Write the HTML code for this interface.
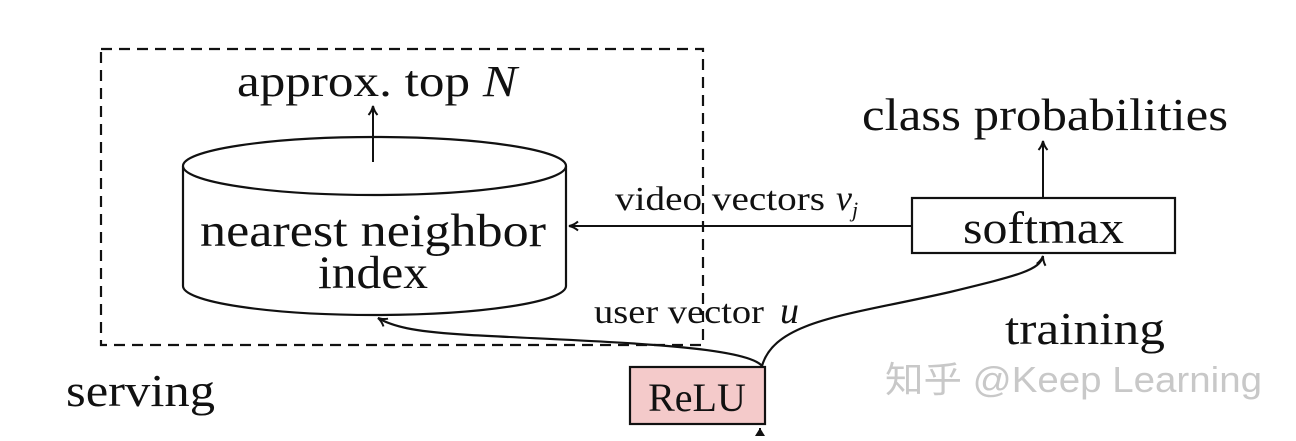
<!DOCTYPE html>
<html><head><meta charset="utf-8"><style>
body{margin:0;background:#fff;}
svg text{font-family:"Liberation Serif",serif;fill:#111;}
</style></head><body>
<svg width="1296" height="436" viewBox="0 0 1296 436" xmlns="http://www.w3.org/2000/svg">
<defs><marker id="a" markerWidth="12" markerHeight="12" refX="10" refY="6" orient="auto" markerUnits="userSpaceOnUse"><path d="M1,1.5 Q5,5 10,6 Q5,7 1,10.5" fill="none" stroke="#111" stroke-width="2"/></marker></defs>
<rect x="101" y="49" width="602" height="296" fill="none" stroke="#111" stroke-width="2.2" stroke-dasharray="11,7"/>
<path d="M183,166 L183,286 A191.5,29 0 0 0 566,286 L566,166" fill="#fff" stroke="#111" stroke-width="2.2"/>
<ellipse cx="374.5" cy="166" rx="191.5" ry="29" fill="#fff" stroke="#111" stroke-width="2.2"/>
<line x1="373" y1="162" x2="373" y2="106" stroke="#111" stroke-width="2" marker-end="url(#a)"/>
<text x="237" y="96" font-size="44" textLength="280" lengthAdjust="spacingAndGlyphs">approx. top <tspan font-style="italic">N</tspan></text>
<text x="200" y="246" font-size="47" textLength="346" lengthAdjust="spacingAndGlyphs">nearest neighbor</text>
<text x="318" y="288" font-size="47" textLength="110" lengthAdjust="spacingAndGlyphs">index</text>
<rect x="912" y="198" width="263" height="55" fill="#fff" stroke="#111" stroke-width="2.2"/>
<text x="963" y="243" font-size="46" textLength="161" lengthAdjust="spacingAndGlyphs">softmax</text>
<line x1="1043" y1="198" x2="1043" y2="141" stroke="#111" stroke-width="2" marker-end="url(#a)"/>
<text x="862" y="130" font-size="46" textLength="366" lengthAdjust="spacingAndGlyphs">class probabilities</text>
<line x1="912" y1="226" x2="569" y2="226" stroke="#111" stroke-width="2" marker-end="url(#a)"/>
<text x="615" y="210" font-size="34" textLength="210" lengthAdjust="spacingAndGlyphs">video vectors</text>
<text x="836" y="210" font-size="36" font-style="italic">v<tspan font-size="22" dy="7">j</tspan></text>
<text x="594" y="323" font-size="34" textLength="170" lengthAdjust="spacingAndGlyphs">user vector</text>
<text x="780" y="323" font-size="38" font-style="italic">u</text>
<rect x="630" y="367" width="135" height="57" fill="#f4caca" stroke="#111" stroke-width="2.2"/>
<text x="697" y="411" font-size="40" text-anchor="middle">ReLU</text>
<path d="M762,366 C745,345 600,342 470,335 C420,332 395,328 378,318" fill="none" stroke="#111" stroke-width="2.2" marker-end="url(#a)"/>
<path d="M762,366 C775,320 850,315 950,292 C1020,275 1040,270 1043,256" fill="none" stroke="#111" stroke-width="2.2" marker-end="url(#a)"/>
<line x1="760" y1="436" x2="760" y2="428" stroke="#111" stroke-width="2"/>
<path d="M755,436 L760,428 L765,436" fill="#111"/>
<text x="1005" y="344" font-size="46" textLength="160" lengthAdjust="spacingAndGlyphs">training</text>
<text x="66" y="406" font-size="46" textLength="149" lengthAdjust="spacingAndGlyphs">serving</text>
<text x="885" y="392" font-size="36" textLength="377" lengthAdjust="spacingAndGlyphs" style="font-family:'Liberation Sans','Noto Sans CJK SC',sans-serif;fill:#c8c8c8">知乎 @Keep Learning</text>
</svg>
</body></html>
